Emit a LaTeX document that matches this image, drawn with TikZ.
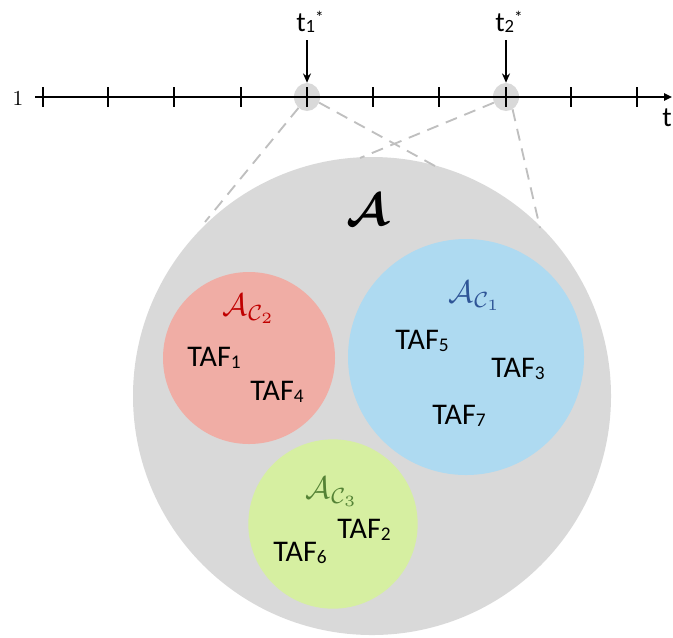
\documentclass[tikz,border=0pt]{standalone}
\usepackage{graphicx}
\usepackage{fontspec}
\newfontfamily\calib{Carlito}
\usetikzlibrary{shapes.geometric,arrows.meta}
\definecolor{biggray}{HTML}{D9D9D9}
\definecolor{dashgray}{HTML}{BFBFBF}
\definecolor{redfill}{HTML}{F0ADA5}
\definecolor{bluefill}{HTML}{AEDAF1}
\definecolor{greenfill}{HTML}{D6EFA1}
\definecolor{redtxt}{HTML}{C00000}
\definecolor{bluetxt}{HTML}{2F5597}
\definecolor{greentxt}{HTML}{548235}
\newcommand\tafsub[1]{{\fontsize{14.5}{14.5}\selectfont\raisebox{-1pt}{#1}}}
\newcommand\tsub[1]{{\fontsize{14}{14}\selectfont\raisebox{-1pt}{#1}}}
\newcommand\tstar{{\fontsize{13}{13}\selectfont\raisebox{1.0ex}{*}}}
\tikzset{
  setcirc/.style={circle, draw=none, inner sep=0pt},
  taf/.style={font=\calib\fontsize{22.5}{26}\selectfont, inner sep=0pt, text=black},
  tlab/.style={font=\calib\fontsize{21}{24}\selectfont, inner sep=0pt},
  setlab/.style={inner sep=0pt},
  tickmark/.style={line width=1.1pt},
  dashline/.style={draw=dashgray, line width=1.4pt, dash pattern=on 9pt off 6pt},
  downarr/.style={line width=1.1pt, -{Stealth[length=7pt,width=6pt]}},
  timepoint/.style={ellipse, fill=biggray, minimum width=19.5pt, minimum height=21pt, inner sep=0pt}
}
\begin{document}
\begin{tikzpicture}[x=0.75pt,y=-0.75pt]
\useasboundingbox (0,0) rectangle (673,637);
% big set
\node[setcirc, fill=biggray, minimum size=358.5pt] (big) at (372,396) {};
\node[setcirc, fill=redfill, minimum size=129pt] (red) at (249,358) {};
\node[setcirc, fill=bluefill, minimum size=177pt] (blue) at (466,357) {};
\node[setcirc, fill=greenfill, minimum size=127pt] (green) at (333,524) {};
% time points
\node[timepoint] (e1) at (307,97) {};
\node[timepoint] (e2) at (506,97) {};
% dashed connectors
\coordinate (c1) at (205,222);
\coordinate (c2) at (435,166);
\coordinate (c3) at (360,158);
\coordinate (c4) at (540,228);
\draw[dashline] (e1.232) -- (c1);
\draw[dashline] (e1.-25) -- (c2);
\draw[dashline] (e2.205) -- (c3);
\draw[dashline] (e2.-62) -- (c4);
% axis
\coordinate (ax0) at (35,97);
\coordinate (ax1) at (672,97);
\draw[line width=1.1pt, -{Triangle[length=6pt,width=5.5pt]}] (ax0) -- (ax1);
\foreach \x in {43,108,174,241,307,373,439,506,571,637}
  \draw[tickmark] (\x,87) -- (\x,107);
\node[inner sep=0pt] (one) at (18,98) {\scalebox{1.6}{1}};
\node[tlab, anchor=west] (tax) at (662,118) {t};
% time labels and arrows
\node[tlab] (t1lab) at (310,22) {t\tsub{1}\tstar};
\node[tlab] (t2lab) at (509,22) {t\tsub{2}\tstar};
\coordinate (ta1) at (307,40);
\coordinate (ta2) at (506,40);
\draw[downarr] (ta1) -- (e1.north);
\draw[downarr] (ta2) -- (e2.north);
% set labels
\node[inner sep=0pt] (Alab) at (367,210) {\scalebox{3.4}{\boldmath$\mathcal{A}$}};
\node[setlab, text=redtxt] (Ac2) at (249,309) {\scalebox{2.35}{$\mathcal{A}_{\mathcal{C}_2}$}};
\node[setlab, text=bluetxt] (Ac1) at (475,296) {\scalebox{2.35}{$\mathcal{A}_{\mathcal{C}_1}$}};
\node[setlab, text=greentxt] (Ac3) at (332,492) {\scalebox{2.35}{$\mathcal{A}_{\mathcal{C}_3}$}};
% TAF labels
\node[taf] (taf1) at (214,358) {TAF\tafsub{1}};
\node[taf] (taf4) at (277,392) {TAF\tafsub{4}};
\node[taf] (taf5) at (422,341) {TAF\tafsub{5}};
\node[taf] (taf3) at (518,369) {TAF\tafsub{3}};
\node[taf] (taf7) at (459,416) {TAF\tafsub{7}};
\node[taf] (taf2) at (364,530) {TAF\tafsub{2}};
\node[taf] (taf6) at (300,553) {TAF\tafsub{6}};
\end{tikzpicture}
\end{document}
